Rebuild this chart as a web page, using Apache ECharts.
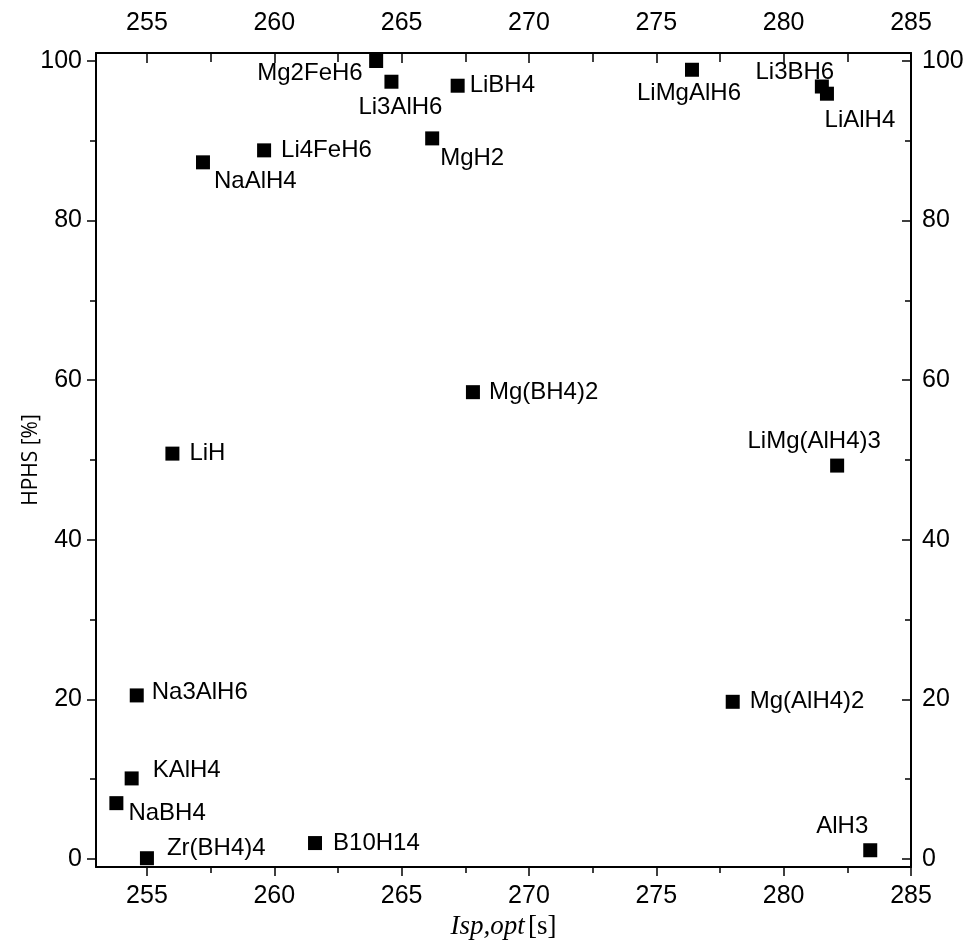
<!DOCTYPE html>
<html>
<head>
<meta charset="utf-8">
<script src="https://cdn.jsdelivr.net/npm/echarts@6/dist/echarts.min.js"></script>
<style>
html,body{margin:0;padding:0;background:#fff;}
#chart{width:965px;height:942px;}
</style>
</head>
<body>
<div id="chart"></div>
<script>
// ---- data ----
const compounds = ['Mg2FeH6','Li3AlH6','LiBH4','Li4FeH6','NaAlH4','MgH2','LiMgAlH6','Li3BH6','LiAlH4',
  'Mg(BH4)2','LiH','LiMg(AlH4)3','Na3AlH6','Mg(AlH4)2','KAlH4','NaBH4','Zr(BH4)4','B10H14','AlH3'];
const ispOpt = [264.0, 264.6, 267.2, 259.6, 257.2, 266.2, 276.4, 281.5, 281.7,
  267.8, 256.0, 282.1, 254.6, 278.0, 254.4, 253.8, 255.0, 261.6, 283.4];
const hphs = [100.0, 97.4, 96.9, 88.8, 87.3, 90.3, 98.9, 96.8, 95.9,
  58.5, 50.8, 49.3, 20.5, 19.7, 10.1, 7.0, 0.1, 2.0, 1.1];
const xMajorTicks = [255, 260, 265, 270, 275, 280, 285];
const xMinorTicks = [257.5, 262.5, 267.5, 272.5, 277.5, 282.5];
const yMajorTicks = [0, 20, 40, 60, 80, 100];
const yMinorTicks = [10, 30, 50, 70, 90];

// ---- label placement (style) ----
const labelPlacement = {
  'Mg2FeH6': ['right', -13.5, 12.5],
  'Li3AlH6': ['center', 9, 26],
  'LiBH4': ['left', 12, 0],
  'Li4FeH6': ['left', 17, 0],
  'NaAlH4': ['left', 11, 19],
  'MgH2': ['left', 8, 20],
  'LiMgAlH6': ['center', -3, 24],
  'Li3BH6': ['center', -27, -14],
  'LiAlH4': ['center', 33, 27],
  'Mg(BH4)2': ['left', 16, 0],
  'LiH': ['left', 17, 0],
  'LiMg(AlH4)3': ['center', -23, -24],
  'Na3AlH6': ['left', 15, -3],
  'Mg(AlH4)2': ['left', 17, 0],
  'KAlH4': ['left', 21, -8],
  'NaBH4': ['left', 12, 10],
  'Zr(BH4)4': ['left', 20, -10],
  'B10H14': ['left', 18, 0],
  'AlH3': ['center', -28, -24]
};

const tickFont = {fontFamily: 'Liberation Sans', fontSize: 25, color: '#000'};

function axis(kind, pos, ticks, tickLen, inside, withLabels, withLine, margin) {
  return {
    type: 'value',
    position: pos,
    min: kind === 'x' ? 253 : -1,
    max: kind === 'x' ? 285 : 101,
    splitLine: {show: false},
    axisLine: {show: withLine, onZero: false, lineStyle: {color: '#000', width: 2}},
    axisTick: {show: true, inside: inside, length: tickLen, customValues: ticks,
      lineStyle: {color: '#000', width: 1.5}},
    axisLabel: withLabels
      ? Object.assign({show: true, margin: margin, customValues: ticks}, tickFont)
      : {show: false},
    z: withLine ? 5 : 4
  };
}

const xAxes = [
  axis('x', 'bottom', xMajorTicks, 9, false, true, true, 17),
  axis('x', 'bottom', xMinorTicks, 6, false, false, false),
  axis('x', 'top', xMajorTicks, 10, true, true, true, 17),
  axis('x', 'top', xMinorTicks, 9, true, false, false)
];
xAxes[0].name = '{i|Isp,opt} {n|[s]}';
xAxes[0].nameLocation = 'middle';
xAxes[0].nameGap = 45;
xAxes[0].nameTextStyle = {
  rich: {
    i: {fontFamily: 'Liberation Serif', fontStyle: 'italic', fontSize: 27, color: '#000'},
    n: {fontFamily: 'Liberation Serif', fontSize: 27, color: '#000'}
  }
};

const yAxes = [
  axis('y', 'left', yMajorTicks, 9, false, true, true, 14),
  axis('y', 'left', yMinorTicks, 6, false, false, false),
  axis('y', 'right', yMajorTicks, 9, true, true, true, 11),
  axis('y', 'right', yMinorTicks, 6, true, false, false)
];
yAxes[0].name = 'HPHS [%]';
yAxes[0].nameLocation = 'middle';
yAxes[0].nameGap = 54;
yAxes[0].nameMoveOverlap = false;
yAxes[0].nameTextStyle = {fontFamily: 'Open Sans', fontSize: 21, color: '#000'};

const seriesData = compounds.map((n, i) => {
  const p = labelPlacement[n];
  return {
    name: n,
    value: [ispOpt[i], hphs[i]],
    label: {
      show: true,
      position: 'inside',
      align: p[0],
      verticalAlign: 'middle',
      offset: [p[1], p[2]],
      formatter: n,
      fontFamily: 'Liberation Sans',
      fontSize: 24,
      color: '#000'
    }
  };
});

const chart = echarts.init(document.getElementById('chart'), null, {renderer: 'canvas'});
chart.setOption({
  backgroundColor: '#fff',
  animation: false,
  grid: {left: 96, right: 54, top: 53, bottom: 75, containLabel: false, outerBoundsMode: 'none'},
  xAxis: xAxes,
  yAxis: yAxes,
  series: [{
    type: 'scatter',
    xAxisIndex: 0,
    yAxisIndex: 0,
    symbol: 'rect',
    symbolSize: 14,
    itemStyle: {color: '#000', opacity: 1},
    data: seriesData,
    clip: false,
    z: 10
  }]
});
</script>
</body>
</html>
